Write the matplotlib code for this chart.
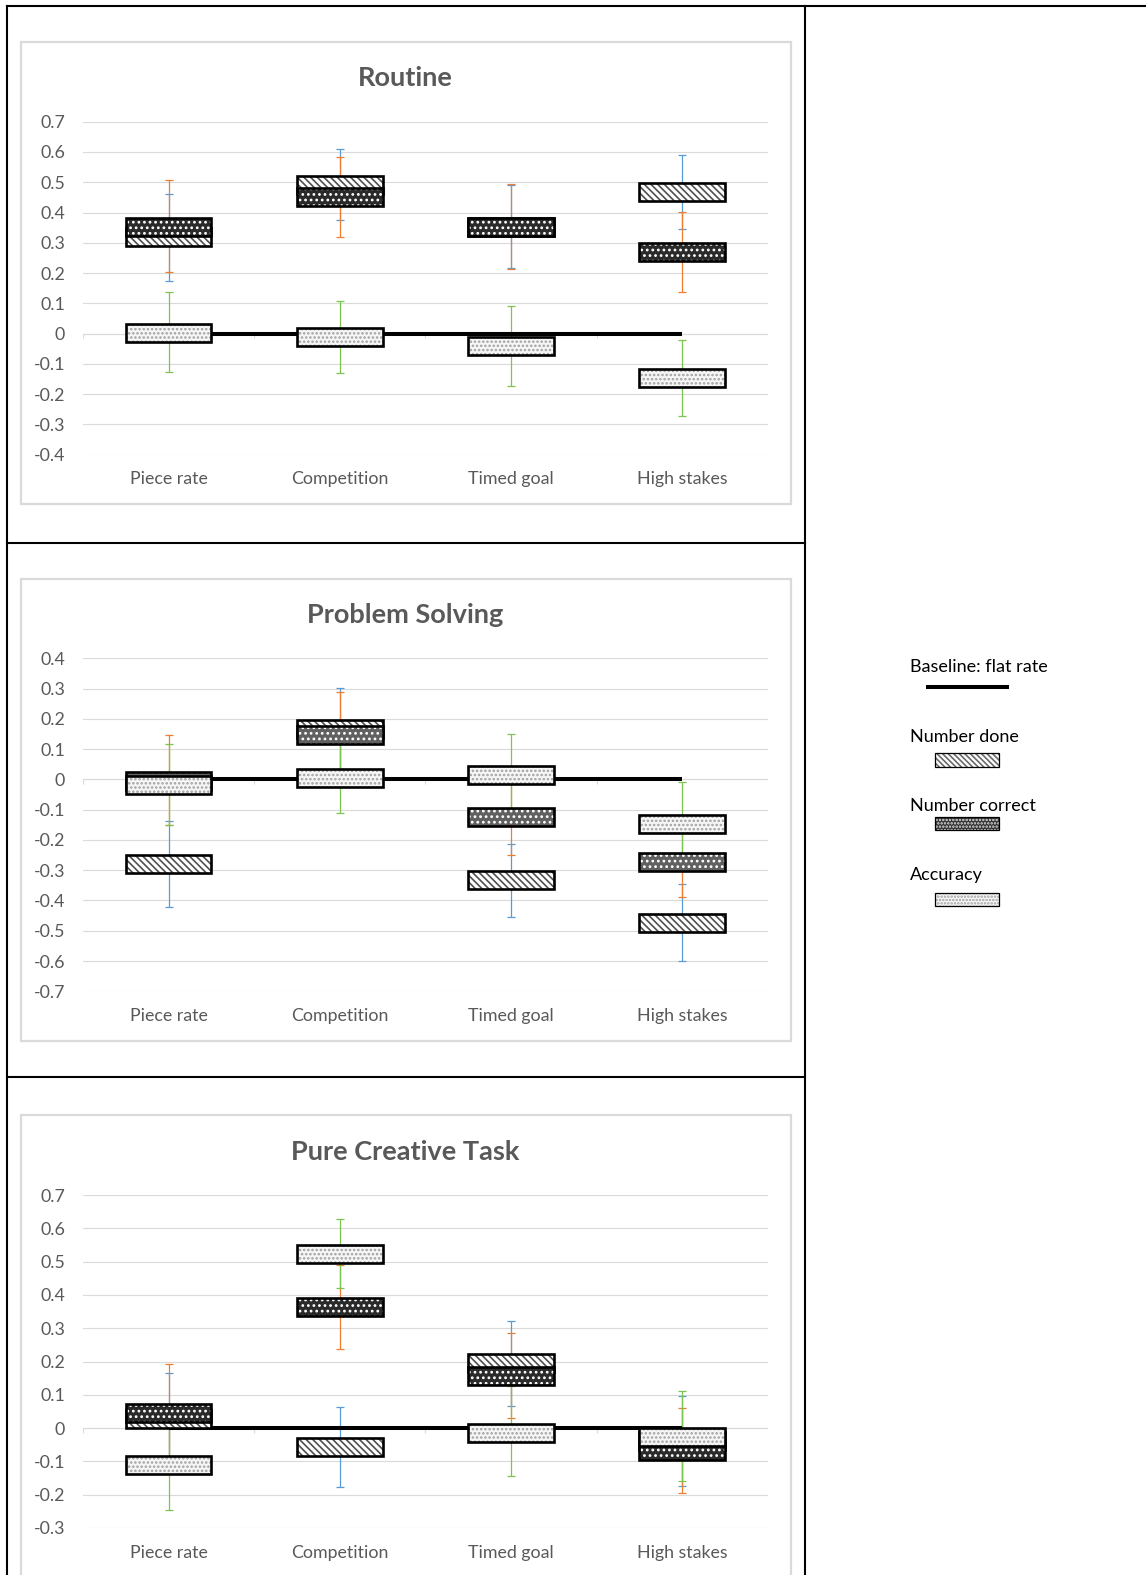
import numpy as np
import matplotlib
matplotlib.use("Agg")
import matplotlib.pyplot as plt
from matplotlib.patches import Rectangle
from matplotlib.lines import Line2D
from matplotlib.ticker import FuncFormatter

plt.rcParams["font.family"] = ["Lato", "DejaVu Sans"]
plt.rcParams["axes.unicode_minus"] = False
plt.rcParams["hatch.linewidth"] = 1.2

# ---------------------------------------------------------------
# data: point estimates and 95% CI bounds, one list per series
# ---------------------------------------------------------------
CATEGORIES = ["Piece rate", "Competition", "Timed goal", "High stakes"]

routine_done       = [0.318, 0.492, 0.352, 0.468]
routine_done_lo    = [0.175, 0.374, 0.217, 0.346]
routine_done_hi    = [0.462, 0.611, 0.490, 0.591]
routine_correct    = [0.353, 0.452, 0.353, 0.268]
routine_correct_lo = [0.203, 0.320, 0.214, 0.138]
routine_correct_hi = [0.506, 0.584, 0.493, 0.402]
routine_acc        = [0.003, -0.011, -0.042, -0.148]
routine_acc_lo     = [-0.127, -0.130, -0.172, -0.272]
routine_acc_hi     = [0.137, 0.108, 0.090, -0.020]

ps_done       = [-0.279, 0.168, -0.333, -0.475]
ps_done_lo    = [-0.422, 0.033, -0.453, -0.601]
ps_done_hi    = [-0.137, 0.303, -0.214, -0.347]
ps_correct    = [-0.004, 0.148, -0.123, -0.272]
ps_correct_lo = [-0.150, 0.008, -0.249, -0.390]
ps_correct_hi = [0.148, 0.288, 0.003, -0.154]
ps_acc        = [-0.017, 0.006, 0.015, -0.147]
ps_acc_lo     = [-0.152, -0.112, -0.119, -0.284]
ps_acc_hi     = [0.118, 0.124, 0.149, -0.010]

cr_done       = [0.027, -0.058, 0.194, -0.040]
cr_done_lo    = [-0.112, -0.177, 0.067, -0.175]
cr_done_hi    = [0.166, 0.063, 0.322, 0.095]
cr_correct    = [0.045, 0.365, 0.156, -0.068]
cr_correct_lo = [-0.103, 0.239, 0.029, -0.195]
cr_correct_hi = [0.193, 0.491, 0.285, 0.060]
cr_acc        = [-0.110, 0.524, -0.015, -0.026]
cr_acc_lo     = [-0.245, 0.421, -0.143, -0.160]
cr_acc_hi     = [0.025, 0.627, 0.125, 0.110]

# ---------------------------------------------------------------
# styling
# ---------------------------------------------------------------
W, H = 1146, 1575
TEXT_GRAY = "#595959"
GRID_GRAY = "#dadada"
CI_COLORS = {"done": "#5b9bd5", "correct": "#ed7d31", "acc": "#7cc34f"}

PANELS = [
    # title, ylim, top of plot area (px), face colour for "number correct"
    ("Routine", (-0.4, 0.7), 121.7, "#2a2a2a",
     (routine_done, routine_done_lo, routine_done_hi),
     (routine_correct, routine_correct_lo, routine_correct_hi),
     (routine_acc, routine_acc_lo, routine_acc_hi)),
    ("Problem Solving", (-0.7, 0.4), 658.3, "#606060",
     (ps_done, ps_done_lo, ps_done_hi),
     (ps_correct, ps_correct_lo, ps_correct_hi),
     (ps_acc, ps_acc_lo, ps_acc_hi)),
    ("Pure Creative Task", (-0.3, 0.7), 1195.0, "#2a2a2a",
     (cr_done, cr_done_lo, cr_done_hi),
     (cr_correct, cr_correct_lo, cr_correct_hi),
     (cr_acc, cr_acc_lo, cr_acc_hi)),
]

PLOT_LEFT, PLOT_RIGHT, PLOT_H = 83, 767.7, 333.0
BOX_PX = 18          # box height in pixels
BOX_W = 0.5

DONE_HATCH = "\\\\\\\\\\"
CORRECT_HATCH = "..."
ACC_HATCH = "...."


def fx(px):
    return px / W


def fy(py):
    return 1 - py / H


def tick_fmt(v, _):
    s = f"{v:.1f}"
    return "0" if s in ("0.0", "-0.0") else s


def hatched_box(ax, x, y0, h, face, hatch_col, hatch, z):
    ax.bar(x, h, bottom=y0, width=BOX_W, facecolor=face, edgecolor=hatch_col,
           hatch=hatch, linewidth=0, zorder=z)
    ax.bar(x, h, bottom=y0, width=BOX_W, fill=False, edgecolor="black",
           linewidth=1.9, zorder=z + 0.1)


fig = plt.figure(figsize=(W / 100, H / 100), dpi=100)

for i, (title, ylim, top_px, corr_face, done, correct, acc) in enumerate(PANELS):
    ax = fig.add_axes([fx(PLOT_LEFT), fy(top_px + PLOT_H),
                       fx(PLOT_RIGHT - PLOT_LEFT), PLOT_H / H])
    x = np.arange(1, len(CATEGORIES) + 1)
    ax.set_xlim(0.5, 4.5)
    ax.set_ylim(*ylim)
    half = BOX_PX / 2 * (ylim[1] - ylim[0]) / PLOT_H

    ax.set_yticks(np.round(np.arange(ylim[0], ylim[1] + 0.001, 0.1), 1))
    ax.yaxis.set_major_formatter(FuncFormatter(tick_fmt))
    ax.set_xticks(x)
    ax.set_xticklabels(CATEGORIES)
    ax.tick_params(length=0, labelsize=12.8, labelcolor=TEXT_GRAY)
    ax.tick_params(axis="y", pad=13)
    ax.tick_params(axis="x", pad=12)
    for sp in ax.spines.values():
        sp.set_visible(False)
    ax.grid(axis="y", color=GRID_GRAY, linewidth=0.8)
    ax.set_axisbelow(True)

    # horizontal category axis at zero with small boundary ticks
    ax.axhline(0, color=GRID_GRAY, linewidth=0.8, zorder=1)
    ax.vlines(np.arange(0.5, 5, 1.0), -0.016 * (ylim[1] - ylim[0]) / 1.1, 0,
              color=GRID_GRAY, linewidth=0.8, zorder=1)

    # confidence intervals behind the boxes
    for key, (est, lo, hi) in (("done", done), ("correct", correct), ("acc", acc)):
        est, lo, hi = np.array(est), np.array(lo), np.array(hi)
        ax.errorbar(x, est, yerr=[est - lo, hi - est], fmt="none",
                    ecolor=CI_COLORS[key], elinewidth=0.9, capsize=2.8,
                    capthick=0.9, zorder=2)

    # flat-rate baseline
    ax.plot([x[0], x[-1]], [0, 0], color="black", linewidth=2.9,
            solid_capstyle="butt", zorder=2.5)

    est = np.array(done[0])
    hatched_box(ax, x, est - half, 2 * half, "white", "#505050", DONE_HATCH, 3)
    est = np.array(correct[0])
    hatched_box(ax, x, est - half, 2 * half, corr_face, "white", CORRECT_HATCH, 4)
    est = np.array(acc[0])
    hatched_box(ax, x, est - half, 2 * half, "#f6f6f6", "#a0a0a0", ACC_HATCH, 5)

    # chart frame and title
    off = i * 536.65
    fig.add_artist(Rectangle((fx(21), fy(504 + off)), fx(770), 462 / H,
                             transform=fig.transFigure, fill=False,
                             edgecolor=GRID_GRAY, linewidth=1.6))
    fig.text(fx(405.5), fy(78.5 + off), title, ha="center", va="center",
             fontsize=19.5, fontweight="bold", color=TEXT_GRAY)

# table grid lines around the panels
table = [
    ((7, 1146), (6, 6)),
    ((7, 7), (6, 1575)),
    ((805, 805), (6, 1575)),
    ((7, 805), (542.7, 542.7)),
    ((7, 805), (1077, 1077)),
]
for xs, ys in table:
    fig.add_artist(Line2D([fx(xs[0]), fx(xs[1])], [fy(ys[0]), fy(ys[1])],
                          color="black", linewidth=1.5,
                          transform=fig.transFigure))

# legend in the right-hand column
fig.text(fx(910), fy(667), "Baseline: flat rate", ha="left", va="center",
         fontsize=13, color="black")
fig.add_artist(Line2D([fx(926), fx(1009)], [fy(686.5), fy(686.5)],
                      color="black", linewidth=2.9, solid_capstyle="butt",
                      transform=fig.transFigure))

legend_items = [
    ("Number done", 736.7, 753, "white", "#6a6a6a", DONE_HATCH + "\\"),
    ("Number correct", 805.7, 816.7, "#303030", "#e0e0e0", ACC_HATCH + "."),
    ("Accuracy", 875, 892.7, "#f7f7f7", "#a0a0a0", ACC_HATCH + "."),
]
for label, ty, py, face, hcol, hatch in legend_items:
    fig.text(fx(910), fy(ty), label, ha="left", va="center",
             fontsize=13, color="black")
    fig.add_artist(Rectangle((fx(935), fy(py + 13.5)), fx(64), 13.5 / H,
                             transform=fig.transFigure, facecolor=face,
                             edgecolor=hcol, hatch=hatch, linewidth=0))
    fig.add_artist(Rectangle((fx(935), fy(py + 13.5)), fx(64), 13.5 / H,
                             transform=fig.transFigure, fill=False,
                             edgecolor="black", linewidth=0.9))

fig.savefig("out.png", dpi=100)
